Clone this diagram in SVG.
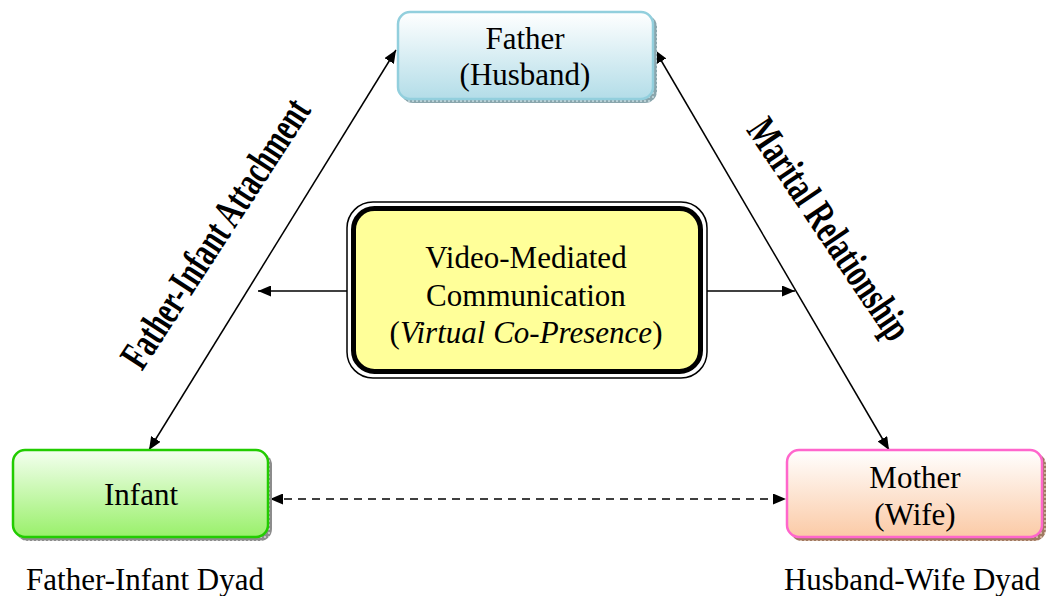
<svg xmlns="http://www.w3.org/2000/svg" width="1050" height="596" viewBox="0 0 1050 596">
  <defs>
    <linearGradient id="gFather" x1="0" y1="0" x2="0" y2="1">
      <stop offset="0" stop-color="#ffffff"/>
      <stop offset="1" stop-color="#b3dde8"/>
    </linearGradient>
    <linearGradient id="gInfant" x1="0" y1="0" x2="0" y2="1">
      <stop offset="0" stop-color="#f4fff0"/>
      <stop offset="1" stop-color="#99f06a"/>
    </linearGradient>
    <linearGradient id="gMother" x1="0" y1="0" x2="0" y2="1">
      <stop offset="0" stop-color="#ffffff"/>
      <stop offset="1" stop-color="#fbcaa6"/>
    </linearGradient>
    <pattern id="hatchBlue" width="4" height="4" patternUnits="userSpaceOnUse">
      <rect width="4" height="4" fill="#8aa6ad"/>
      <rect width="2" height="2" fill="#b9cfd4"/>
    </pattern>
    <pattern id="hatchGrey" width="4" height="4" patternUnits="userSpaceOnUse">
      <rect width="4" height="4" fill="#8c8c8c"/>
      <rect width="2" height="2" fill="#c4c4c4"/>
    </pattern>
    <pattern id="hatchBrown" width="4" height="4" patternUnits="userSpaceOnUse">
      <rect width="4" height="4" fill="#a07a62"/>
      <rect width="2" height="2" fill="#d1b29e"/>
    </pattern>
    <marker id="arrow" viewBox="0 0 13 11" refX="13" refY="5.5" markerWidth="13" markerHeight="11" markerUnits="userSpaceOnUse" orient="auto-start-reverse">
      <path d="M0,0 L13,5.5 L0,11 Z" fill="#000"/>
    </marker>
  </defs>
  <style>
    .lbl { font-family: "Liberation Serif", "Times New Roman", serif; font-size: 31px; fill: #000; text-anchor: middle; }
    .cap { font-family: "Liberation Serif", "Times New Roman", serif; font-size: 31px; fill: #000; text-anchor: middle; }
    .rot { font-family: "Liberation Serif", "Times New Roman", serif; font-size: 42px; font-weight: bold; fill: #000; text-anchor: middle; }
    .edge { stroke: #000; stroke-width: 1.5; fill: none; marker-end: url(#arrow); }
    .both { marker-start: url(#arrow); }
    .dash { stroke-dasharray: 8 6; }
  </style>

  <rect width="1050" height="596" fill="#ffffff"/>

  <!-- connectors -->
  <g id="connectors">
    <line class="edge both" x1="149" y1="450" x2="396" y2="50"/>
    <line class="edge both" x1="655" y1="50" x2="889" y2="450"/>
    <line class="edge" x1="348" y1="291" x2="258" y2="291"/>
    <line class="edge" x1="706" y1="291" x2="795" y2="291"/>
    <line class="edge both dash" x1="270" y1="499" x2="786" y2="499"/>
  </g>

  <!-- relation labels along the triangle sides -->
  <g id="label-attachment">
    <text class="rot" transform="translate(227,241) rotate(-57)" textLength="312" lengthAdjust="spacingAndGlyphs">Father-Infant Attachment</text>
  </g>
  <g id="label-marital">
    <text class="rot" transform="translate(818,237) rotate(56)" textLength="258" lengthAdjust="spacingAndGlyphs">Marital Relationship</text>
  </g>

  <!-- Father -->
  <g id="father">
    <rect x="401" y="15" width="256" height="88" rx="12" fill="url(#hatchBlue)"/>
    <rect x="398" y="12" width="255" height="87" rx="12" fill="url(#gFather)" stroke="#92cfdd" stroke-width="2.5"/>
    <text class="lbl" x="525" y="49">Father</text>
    <text class="lbl" x="525" y="85">(Husband)</text>
  </g>

  <!-- Video-mediated communication -->
  <g id="vmc">
    <rect x="347" y="202" width="360" height="176" rx="26" fill="#ffffff" stroke="#000" stroke-width="1.5"/>
    <rect x="353.5" y="208.5" width="347" height="163" rx="21" fill="#ffff99" stroke="#000" stroke-width="5"/>
    <text class="lbl" x="526" y="268">Video-Mediated</text>
    <text class="lbl" x="526" y="306">Communication</text>
    <text class="lbl" x="526" y="343">(<tspan font-style="italic">Virtual Co-Presence</tspan>)</text>
  </g>

  <!-- Infant -->
  <g id="infant">
    <rect x="16" y="453" width="256" height="88" rx="12" fill="url(#hatchGrey)"/>
    <rect x="13" y="450" width="255" height="87" rx="12" fill="url(#gInfant)" stroke="#22cc00" stroke-width="2.5"/>
    <text class="lbl" x="141" y="505">Infant</text>
  </g>

  <!-- Mother -->
  <g id="mother">
    <rect x="790" y="453" width="256" height="88" rx="12" fill="url(#hatchBrown)"/>
    <rect x="787" y="450" width="255" height="87" rx="12" fill="url(#gMother)" stroke="#ff66cc" stroke-width="2.5"/>
    <text class="lbl" x="915" y="488">Mother</text>
    <text class="lbl" x="915" y="525">(Wife)</text>
  </g>

  <!-- dyad captions -->
  <text id="cap-left" class="cap" x="145" y="590">Father-Infant Dyad</text>
  <text id="cap-right" class="cap" x="912" y="590">Husband-Wife Dyad</text>
</svg>
